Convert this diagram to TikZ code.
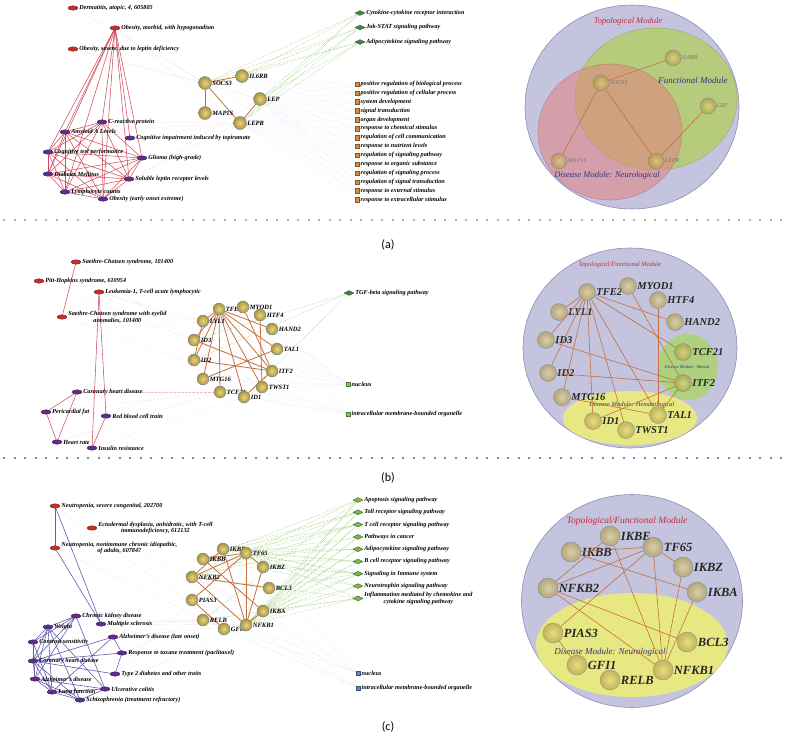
\documentclass[tikz,border=0pt]{standalone}
\usepackage{fontspec}
\setmainfont{Liberation Serif}
\newfontfamily\capfont{Carlito}
\usetikzlibrary{shapes.geometric,positioning}
\pgfdeclarelayer{background}
\pgfsetlayers{background,main}

\definecolor{disred}{RGB}{196,48,40}
\definecolor{traitpurple}{RGB}{92,46,138}
\definecolor{edgered}{RGB}{210,76,96}
\definecolor{edgeblue}{RGB}{100,90,178}
\definecolor{genegold}{RGB}{206,182,86}
\definecolor{genelight}{RGB}{232,214,130}
\definecolor{genedark}{RGB}{170,146,60}
\definecolor{generim}{RGB}{110,130,150}
\definecolor{geneedge}{RGB}{196,112,60}
\definecolor{pathgreen}{RGB}{70,130,70}
\definecolor{pathlight}{RGB}{124,184,70}
\definecolor{gogreen}{RGB}{130,200,90}
\definecolor{goorange}{RGB}{226,140,60}
\definecolor{goblue}{RGB}{100,135,200}
\definecolor{topofill}{RGB}{196,196,222}
\definecolor{topoline}{RGB}{140,140,190}
\definecolor{funcfill}{RGB}{180,205,100}
\definecolor{neurofill}{RGB}{226,130,130}
\definecolor{hemfill}{RGB}{236,236,120}
\definecolor{mentfill}{RGB}{170,212,110}
\definecolor{modred}{RGB}{200,40,60}
\definecolor{modblue}{RGB}{50,50,130}
\definecolor{sepgray}{RGB}{175,175,175}
\definecolor{sepblue}{RGB}{120,140,185}

\tikzstyle{dis} = [ellipse, fill=disred, draw=disred!60!black, line width=0.3pt, minimum width=10pt, minimum height=4.5pt, inner sep=0pt, label distance=0pt]
\tikzstyle{trait} = [dis, fill=traitpurple, draw=traitpurple!60!black]
\tikzstyle{lbl} = [font=\fontsize{6.2}{6.8}\selectfont\bfseries\itshape, inner sep=1pt]
\tikzstyle{gene} = [circle, shading=radial, inner color=genelight, outer color=genedark, draw=generim, line width=0.4pt, minimum size=12pt, inner sep=0pt, label distance=-1pt]
\tikzstyle{glbl} = [font=\fontsize{6.5}{7}\selectfont\bfseries\itshape, inner sep=0.5pt]
\tikzstyle{pway} = [diamond, aspect=2, fill=pathgreen, draw=pathgreen!60!black, line width=0.3pt, minimum width=10pt, minimum height=5pt, inner sep=0pt]
\tikzstyle{goterm} = [rectangle, fill=goorange, draw=goorange!60!black, line width=0.3pt, minimum size=4.5pt, inner sep=0pt]
\tikzstyle{redge} = [edgered, line width=0.55pt]
\tikzstyle{bedge} = [edgeblue, line width=0.6pt]
\tikzstyle{gedge} = [geneedge, line width=0.8pt]
\tikzstyle{xred} = [edgered!35, densely dotted, line width=0.35pt]
\tikzstyle{xgreen} = [pathlight, densely dotted, line width=0.4pt]
\tikzstyle{xblue} = [goblue!30, densely dotted, line width=0.3pt]
\tikzstyle{module} = [ellipse, inner sep=0pt, line width=0.6pt]
\tikzstyle{modtxt} = [font=\fontsize{8.5}{9}\selectfont\itshape, inner sep=0pt]
\tikzstyle{rgene} = [circle, shading=radial, inner color=genelight, outer color=genedark, draw=generim, line width=0.5pt, inner sep=0pt, opacity=0.6, label distance=-1pt]
\tikzstyle{rlblA} = [font=\fontsize{6}{6}\selectfont\itshape, text=black!55, inner sep=0.5pt]
\tikzstyle{rlblB} = [font=\fontsize{10.5}{11}\selectfont\bfseries\itshape, text=black!85, inner sep=0.5pt]
\tikzstyle{rlblC} = [font=\fontsize{12.5}{13}\selectfont\bfseries\itshape, text=black!85, inner sep=0.5pt]
\tikzstyle{rline} = [geneedge, line width=0.6pt]
\tikzstyle{sepline} = [line width=2pt, dash pattern=on 2pt off 8.5pt]
\tikzstyle{panel} = [font=\capfont\fontsize{12}{12}\selectfont]

\begin{document}
\begin{tikzpicture}[x=1pt, y=-1pt, node distance=8.9pt]
\useasboundingbox (0,0) rectangle (787,736);

\node (dermat) [dis, label={[lbl]right:Dermatitis, atopic, 4, 605805}] at (73,8) {};
\node (obmorb) [dis, label={[lbl]right:Obesity, morbid, with hypogonadism}] at (115,28) {};
\node (obsev) [dis, label={[lbl]right:Obesity, severe, due to leptin deficiency}] at (73,49) {};
\node (crp) [trait, label={[lbl]right:C-reactive protein}] at (102,122) {};
\node (amyl) [trait, label={[lbl]right:Amyloid A Levels}] at (65,132) {};
\node (cogimp) [trait, label={[lbl]right:Cognitive impairment induced by topiramate}] at (130,138) {};
\node (cogtest) [trait, label={[lbl]right:Cognitive test performance}] at (48,152) {};
\node (glioma) [trait, label={[lbl]right:Glioma (high-grade)}] at (142,158) {};
\node (diab) [trait, label={[lbl]right:Diabetes Mellitus}] at (48,174) {};
\node (solub) [trait, label={[lbl]right:Soluble leptin receptor levels}] at (129,179) {};
\node (lymph) [trait, label={[lbl]right:Lymphocyte counts}] at (65,192) {};
\node (obearly) [trait, label={[lbl]right:Obesity (early onset extreme)}] at (103,199) {};

\node (socsA) [gene, minimum size=13pt, label={[glbl]right:SOCS3}] at (205,83) {};
\node (il6rbA) [gene, minimum size=13pt, label={[glbl]right:IL6RB}] at (242,76) {};
\node (lepA) [gene, minimum size=13pt, label={[glbl]right:LEP}] at (260,99) {};
\node (mapA) [gene, minimum size=13pt, label={[glbl]right:MAP1S}] at (205,113) {};
\node (leprA) [gene, minimum size=13pt, label={[glbl]right:LEPR}] at (240,123) {};

\node (cytoA) [pway, label={[lbl]right:Cytokine-cytokine receptor interaction}] at (360,13) {};
\node (jakA) [pway, below of=cytoA, node distance=14.5pt, label={[lbl]right:Jak-STAT signaling pathway}] {};
\node (adipoA) [pway, below of=jakA, node distance=14.5pt, label={[lbl]right:Adipocytokine signaling pathway}] {};

\node (goA1) [goterm, label={[lbl]right:positive regulation of biological process}] at (357,84) {};
\node (goA2) [goterm, below of=goA1, label={[lbl]right:positive regulation of cellular process}] {};
\node (goA3) [goterm, below of=goA2, label={[lbl]right:system development}] {};
\node (goA4) [goterm, below of=goA3, label={[lbl]right:signal transduction}] {};
\node (goA5) [goterm, below of=goA4, label={[lbl]right:organ development}] {};
\node (goA6) [goterm, below of=goA5, label={[lbl]right:response to chemical stimulus}] {};
\node (goA7) [goterm, below of=goA6, label={[lbl]right:regulation of cell communication}] {};
\node (goA8) [goterm, below of=goA7, label={[lbl]right:response to nutrient levels}] {};
\node (goA9) [goterm, below of=goA8, label={[lbl]right:regulation of signaling pathway}] {};
\node (goA10) [goterm, below of=goA9, label={[lbl]right:response to organic substance}] {};
\node (goA11) [goterm, below of=goA10, label={[lbl]right:regulation of signaling process}] {};
\node (goA12) [goterm, below of=goA11, label={[lbl]right:regulation of signal transduction}] {};
\node (goA13) [goterm, below of=goA12, label={[lbl]right:response to external stimulus}] {};
\node (goA14) [goterm, below of=goA13, label={[lbl]right:response to extracellular stimulus}] {};

\begin{pgfonlayer}{background}
\draw [xblue] (leprA) edge (goA1) edge (goA2) edge (goA3) edge (goA4) edge (goA5) edge (goA6) edge (goA7) edge (goA8) edge (goA9) edge (goA10) edge (goA11) edge (goA12) edge (goA13) edge (goA14)
  (lepA) edge (goA1) edge (goA2) edge (goA3) edge (goA4) edge (goA5) edge (goA6) edge (goA7) edge (goA8) edge (goA9) edge (goA10) edge (goA11) edge (goA12) edge (goA13) edge (goA14)
  (il6rbA) edge (goA1) edge (goA2) edge (goA4) edge (goA7) edge (goA12)
  (socsA) edge (goA1) edge (goA2) edge (goA6) edge (goA9) edge (goA11);
\draw [xgreen] (il6rbA) edge (cytoA) edge (jakA) edge (adipoA)
  (lepA) edge (cytoA) edge (jakA) edge (adipoA)
  (leprA) edge (cytoA) edge (jakA) edge (adipoA)
  (socsA) edge (cytoA) edge (jakA) edge (adipoA);
\draw [xred] (obmorb) edge (leprA) edge (socsA) (obsev) edge (lepA) edge (socsA) (dermat) edge (socsA)
  (crp) edge (leprA) (cogimp) edge (leprA) (solub) edge (leprA) (obearly) edge (lepA) (amyl) edge (leprA);
\draw [redge] (obmorb) edge (crp) edge (amyl) edge (cogimp) edge (cogtest) edge (glioma) edge (diab) edge (solub) edge (lymph) edge (obearly)
  (crp) edge (amyl) edge (cogtest) edge (glioma) edge (diab) edge (solub) edge (lymph) edge (obearly)
  (amyl) edge (cogtest) edge (glioma) edge (diab) edge (solub) edge (lymph) edge (obearly)
  (cogtest) edge (glioma) edge (diab) edge (solub) edge (lymph) edge (obearly)
  (glioma) edge (diab) edge (solub) edge (lymph) edge (obearly)
  (diab) edge (solub) edge (lymph) edge (obearly)
  (solub) edge (lymph) edge (obearly)
  (lymph) edge (obearly);
\draw [gedge] (socsA) edge (il6rbA) edge (mapA) edge (leprA) (leprA) edge (lepA);
\end{pgfonlayer}

\node (topoA) [module, fill=topofill, draw=topoline, minimum width=214pt, minimum height=204pt] at (632,107) {};
\node (funcA) [module, fill=funcfill, fill opacity=0.8, draw=funcfill!70!black, draw opacity=0.4, minimum width=162pt, minimum height=142pt] at (656,99) {};
\node (neuroA) [module, fill=neurofill, fill opacity=0.55, draw=neurofill!70!black, draw opacity=0.4, minimum width=144pt, minimum height=136pt] at (610,132) {};
\node (topoAtxt) [modtxt, text=modred] at (628,21) {Topological Module};
\node (funcAtxt) [modtxt, text=modblue, font=\fontsize{9}{9}\selectfont\itshape] at (693,80) {Functional Module};
\node (neuroAtxt) [modtxt, text=modblue] at (607,175) {Disease Module: Neurological};
\node (il6rbR) [rgene, minimum size=16pt, label={[rlblA]right:IL6RB}] at (673,58) {};
\node (socsR) [rgene, minimum size=16pt, label={[rlblA]right:SOCS3}] at (601,83) {};
\node (lepR) [rgene, minimum size=16pt, label={[rlblA]right:LEP}] at (708,106) {};
\node (mapR) [rgene, minimum size=16pt, label={[rlblA]right:MAP1S}] at (559,161) {};
\node (leprR) [rgene, minimum size=16pt, label={[rlblA]right:LEPR}] at (656,161) {};
\draw [rline] (socsR) edge (il6rbR) edge (mapR) edge (leprR) (leprR) edge (lepR);

\draw [sepline, sepgray] (3,220) -- (787,220);
\node (capA) [panel] at (388,245) {(a)};

\node (sc1) [dis, label={[lbl]right:Saethre-Chotzen syndrome, 101400}] at (76,262) {};
\node (pitt) [dis, label={[lbl]right:Pitt-Hopkins syndrome, 610954}] at (39,281) {};
\node (leuk) [dis, label={[lbl]right:Leukemia-1, T-cell acute lymphocytic}] at (99,292) {};
\node (sc2) [dis, label={[lbl,align=center]right:Saethre-Chotzen syndrome with eyelid\\anomalies, 101400}] at (62,317) {};
\node (chdB) [trait, label={[lbl]right:Coronary heart disease}] at (77,392) {};
\node (perifat) [trait, label={[lbl]right:Pericardial fat}] at (46,412) {};
\node (rbc) [trait, label={[lbl]right:Red blood cell traits}] at (106,416) {};
\node (hrate) [trait, label={[lbl]right:Heart rate}] at (57,442) {};
\node (insres) [trait, label={[lbl]right:Insulin resistance}] at (92,448) {};

\node (tfe2B) [gene, label={[glbl]right:TFE2}] at (219,309) {};
\node (myod1B) [gene, label={[glbl]right:MYOD1}] at (243,307) {};
\node (lyl1B) [gene, label={[glbl]right:LYL1}] at (203,321) {};
\node (htf4B) [gene, label={[glbl]right:HTF4}] at (260,315) {};
\node (hand2B) [gene, label={[glbl]right:HAND2}] at (272,329) {};
\node (id3B) [gene, label={[glbl]right:ID3}] at (194,340) {};
\node (tal1B) [gene, label={[glbl]right:TAL1}] at (277,349) {};
\node (id2B) [gene, label={[glbl]right:ID2}] at (194,360) {};
\node (itf2B) [gene, label={[glbl]right:ITF2}] at (272,371) {};
\node (mtg16B) [gene, label={[glbl]right:MTG16}] at (203,379) {};
\node (twst1B) [gene, label={[glbl]right:TWST1}] at (262,387) {};
\node (tcf21B) [gene, label={[glbl]right:TCF21}] at (220,392) {};
\node (id1B) [gene, label={[glbl]right:ID1}] at (244,397) {};

\node (tgfB) [pway, label={[lbl]right:TGF-beta signaling pathway}] at (349,293) {};
\node (nucB) [goterm, fill=gogreen, draw=gogreen!60!black, label={[lbl]right:nucleus}] at (348,384) {};
\node (imboB) [goterm, fill=gogreen, draw=gogreen!60!black, label={[lbl]right:intracellular membrane-bounded organelle}] at (348,414) {};

\begin{pgfonlayer}{background}
\draw [xblue] (nucB) edge (tfe2B) edge (myod1B) edge (lyl1B) edge (htf4B) edge (hand2B) edge (id3B) edge (tal1B) edge (id2B) edge (itf2B) edge (mtg16B) edge (twst1B) edge (tcf21B) edge (id1B)
  (imboB) edge (id1B) edge (twst1B) edge (tcf21B) edge (itf2B) edge (hand2B) edge (tal1B) edge (id2B) edge (mtg16B);
\draw [xgreen] (tgfB) edge (id3B) edge (id2B) edge (id1B);
\draw [xred] (sc1) edge (twst1B) (sc2) edge (twst1B) (pitt) edge (itf2B) (leuk) edge (tal1B) (leuk) edge (lyl1B)
  (chdB) edge (tcf21B) (perifat) edge (tcf21B) (rbc) edge (tal1B) (hrate) edge (tcf21B) (insres) edge (id1B);
\draw [redge] (sc1) edge (sc2) (leuk) edge (insres) edge (rbc) (chdB) edge (perifat) edge (hrate) (perifat) edge (hrate) (rbc) edge (insres);
\draw [gedge] (tfe2B) edge (lyl1B) edge (id3B) edge (id2B) edge (mtg16B) edge (tcf21B) edge (id1B) edge (twst1B) edge (tal1B) edge (hand2B) edge (itf2B)
  (id3B) edge (itf2B) (id2B) edge (itf2B) (mtg16B) edge (tal1B) (myod1B) edge (itf2B) (htf4B) edge (twst1B) (itf2B) edge (id1B) (lyl1B) edge (id2B);
\end{pgfonlayer}

\node (topoB) [module, fill=topofill, draw=topoline, minimum width=214pt, minimum height=200pt] at (630,348) {};
\node (mentB) [module, fill=mentfill, fill opacity=0.85, minimum width=60pt, minimum height=66pt] at (688,367) {};
\node (hemB) [module, fill=hemfill, fill opacity=0.9, minimum width=134pt, minimum height=54pt] at (630,418) {};
\node (topoBtxt) [modtxt, text=modred, font=\fontsize{6.5}{7}\selectfont\itshape] at (620,265) {Topological/Functional Module};
\node (mentBtxt) [modtxt, text=modblue, font=\fontsize{4.5}{5}\selectfont\itshape] at (687,367) {Disease Module: Mental};
\node (hemBtxt) [modtxt, text=modblue, font=\fontsize{6.5}{7}\selectfont\itshape] at (632,405) {Disease Module: Hematological};
\node (tfe2R) [rgene, minimum size=17pt, label={[rlblB]right:TFE2}] at (587,292) {};
\node (myod1R) [rgene, minimum size=17pt, label={[rlblB]right:MYOD1}] at (628,286) {};
\node (htf4R) [rgene, minimum size=17pt, label={[rlblB]right:HTF4}] at (658,300) {};
\node (lyl1R) [rgene, minimum size=17pt, label={[rlblB]right:LYL1}] at (559,312) {};
\node (hand2R) [rgene, minimum size=17pt, label={[rlblB]right:HAND2}] at (675,322) {};
\node (id3R) [rgene, minimum size=17pt, label={[rlblB]right:ID3}] at (546,340) {};
\node (tcf21R) [rgene, minimum size=17pt, label={[rlblB]right:TCF21}] at (683,352) {};
\node (id2R) [rgene, minimum size=17pt, label={[rlblB]right:ID2}] at (548,373) {};
\node (itf2R) [rgene, minimum size=17pt, label={[rlblB]right:ITF2}] at (683,383) {};
\node (mtg16R) [rgene, minimum size=17pt, label={[rlblB]right:MTG16}] at (562,397) {};
\node (tal1R) [rgene, minimum size=17pt, label={[rlblB]right:TAL1}] at (658,415) {};
\node (id1R) [rgene, minimum size=17pt, label={[rlblB]right:ID1}] at (593,421) {};
\node (twst1R) [rgene, minimum size=17pt, label={[rlblB]right:TWST1}] at (626,430) {};
\draw [rline] (tfe2R) edge (lyl1R) edge (id3R) edge (id2R) edge (mtg16R) edge (id1R) edge (twst1R) edge (tal1R) edge (tcf21R) edge (hand2R)
  (id3R) edge (itf2R) (id2R) edge (itf2R) (mtg16R) edge (tal1R) (myod1R) edge (itf2R) (htf4R) edge (tal1R) (itf2R) edge (id1R) edge (tal1R);

\draw [sepline, sepblue] (3,458) -- (787,458);
\node (capB) [panel] at (388,478) {(b)};

\node (neusev) [dis, label={[lbl]right:Neutropenia, severe congenital, 202700}] at (55,506) {};
\node (ectod) [dis, label={[lbl,align=center]right:Ectodermal dysplasia, anhidrotic, with T-cell\\immunodeficiency, 612132}] at (92,528) {};
\node (neunon) [dis, label={[lbl,align=center]right:Neutropenia, nonimmune chronic idiopathic,\\of adults, 607847}] at (55,548) {};
\node (ckd) [trait, label={[lbl]right:Chronic kidney disease}] at (76,616) {};
\node (msc) [trait, label={[lbl]right:Multiple sclerosis}] at (101,624) {};
\node (wgt) [trait, label={[lbl]right:Weight}] at (48,627) {};
\node (csens) [trait, label={[lbl]right:Contrast sensitivity}] at (33,642) {};
\node (alzlate) [trait, label={[lbl]right:Alzheimer's disease (late onset)}] at (113,637) {};
\node (taxane) [trait, label={[lbl]right:Response to taxane treatment (paclitaxel)}] at (122,653) {};
\node (chdC) [trait, label={[lbl]right:Coronary heart disease}] at (33,661) {};
\node (t2d) [trait, label={[lbl]right:Type 2 diabetes and other traits}] at (115,674) {};
\node (alzd) [trait, label={[lbl]right:Alzheimer's disease}] at (35,679) {};
\node (ulcol) [trait, label={[lbl]right:Ulcerative colitis}] at (105,689) {};
\node (lungf) [trait, label={[lbl]right:Lung function}] at (52,692) {};
\node (schiz) [trait, label={[lbl]right:Schizophrenia (treatment refractory)}] at (80,700) {};

\node (ikbeC) [gene, label={[glbl]right:IKBE}] at (223,549) {};
\node (tf65C) [gene, label={[glbl]right:TF65}] at (246,553) {};
\node (ikbbC) [gene, label={[glbl]right:IKBB}] at (203,559) {};
\node (ikbzC) [gene, label={[glbl]right:IKBZ}] at (263,567) {};
\node (nfkb2C) [gene, label={[glbl]right:NFKB2}] at (192,577) {};
\node (bcl3C) [gene, label={[glbl]right:BCL3}] at (269,588) {};
\node (pias3C) [gene, label={[glbl]right:PIAS3}] at (192,600) {};
\node (ikbaC) [gene, label={[glbl]right:IKBA}] at (263,611) {};
\node (relbC) [gene, label={[glbl]right:RELB}] at (203,620) {};
\node (gfi1C) [gene, label={[glbl]right:GFI1}] at (224,629) {};
\node (nfkb1C) [gene, label={[glbl]right:NFKB1}] at (246,625) {};

\node (pwC1) [pway, fill=pathlight, label={[lbl]right:Apoptosis signaling pathway}] at (358,500) {};
\node (pwC2) [pway, fill=pathlight, below of=pwC1, node distance=12.3pt, label={[lbl]right:Toll receptor signaling pathway}] {};
\node (pwC3) [pway, fill=pathlight, below of=pwC2, node distance=12.3pt, label={[lbl]right:T cell receptor signaling pathway}] {};
\node (pwC4) [pway, fill=pathlight, below of=pwC3, node distance=12.3pt, label={[lbl]right:Pathways in cancer}] {};
\node (pwC5) [pway, fill=pathlight, below of=pwC4, node distance=12.3pt, label={[lbl]right:Adipocytokine signaling pathway}] {};
\node (pwC6) [pway, fill=pathlight, below of=pwC5, node distance=12.3pt, label={[lbl]right:B cell receptor signaling pathway}] {};
\node (pwC7) [pway, fill=pathlight, below of=pwC6, node distance=12.3pt, label={[lbl]right:Signaling in Immune system}] {};
\node (pwC8) [pway, fill=pathlight, below of=pwC7, node distance=12.3pt, label={[lbl]right:Neurotrophin signaling pathway}] {};
\node (pwC9) [pway, fill=pathlight, below of=pwC8, node distance=12.3pt, label={[lbl,align=center]right:Inflammation mediated by chemokine and\\cytokine signaling pathway}] {};
\node (nucC) [goterm, fill=goblue, draw=goblue!60!black, label={[lbl]right:nucleus}] at (358,673) {};
\node (imboC) [goterm, fill=goblue, draw=goblue!60!black, label={[lbl]right:intracellular membrane-bounded organelle}] at (358,688) {};

\begin{pgfonlayer}{background}
\draw [xgreen] (pwC1) edge (tf65C) edge (nfkb1C) edge (ikbaC) edge (ikbbC) edge (relbC)
  (pwC2) edge (tf65C) edge (nfkb1C) edge (ikbaC) edge (ikbbC) edge (ikbeC)
  (pwC3) edge (tf65C) edge (nfkb1C) edge (ikbaC) edge (ikbbC) edge (ikbeC) edge (nfkb2C)
  (pwC4) edge (tf65C) edge (nfkb1C) edge (ikbaC) edge (nfkb2C)
  (pwC5) edge (tf65C) edge (nfkb1C) edge (ikbaC) edge (ikbbC) edge (ikbeC)
  (pwC6) edge (tf65C) edge (nfkb1C) edge (ikbaC) edge (ikbbC) edge (ikbeC)
  (pwC7) edge (tf65C) edge (nfkb1C) edge (ikbaC) edge (ikbbC) edge (ikbeC) edge (ikbzC) edge (bcl3C)
  (pwC8) edge (tf65C) edge (nfkb1C) edge (ikbaC) edge (ikbbC)
  (pwC9) edge (tf65C) edge (nfkb1C) edge (ikbaC) edge (relbC) edge (nfkb2C);
\draw [xblue] (nucC) edge (nfkb1C) edge (relbC) edge (gfi1C) edge (pias3C) edge (bcl3C) edge (ikbaC) edge (tf65C) edge (nfkb2C)
  (imboC) edge (nfkb1C) edge (relbC) edge (gfi1C) edge (pias3C) edge (ikbaC);
\draw [xred] (neusev) edge (gfi1C) (neunon) edge (gfi1C) (ectod) edge (ikbaC) (ckd) edge (nfkb1C) (msc) edge (relbC) (msc) edge (nfkb1C)
  (alzlate) edge (nfkb1C) (taxane) edge (bcl3C) (t2d) edge (pias3C) (ulcol) edge (nfkb1C) (wgt) edge (relbC);
\draw [bedge] (neusev) edge (neunon) edge (msc) (neunon) edge (msc);
\draw [bedge] (ckd) edge (wgt) edge (csens) edge (chdC) edge (alzd) edge (ulcol)
  (wgt) edge (csens) edge (chdC) edge (alzd) edge (lungf) edge (schiz) edge (ulcol)
  (csens) edge (chdC) edge (alzd) edge (lungf)
  (chdC) edge (alzd) edge (lungf) edge (alzlate) edge (t2d) edge (schiz)
  (alzd) edge (lungf) edge (ulcol) edge (schiz)
  (lungf) edge (schiz) edge (ulcol)
  (schiz) edge (ulcol)
  (alzlate) edge (taxane) edge (lungf)
  (taxane) edge (t2d) edge (chdC);
\draw [gedge] (ikbbC) edge (tf65C) edge (ikbaC) (ikbeC) edge (nfkb1C) (nfkb2C) edge (tf65C) edge (ikbeC) edge (bcl3C) edge (nfkb1C)
  (tf65C) edge (ikbzC) edge (nfkb1C) edge (pias3C) (ikbzC) edge (nfkb1C) (ikbaC) edge (nfkb1C) (pias3C) edge (gfi1C);
\end{pgfonlayer}

\node (topoC) [module, fill=topofill, draw=topoline, minimum width=221pt, minimum height=213pt] at (632,601) {};
\node (neuroC) [module, fill=hemfill, fill opacity=0.9, minimum width=192pt, minimum height=104pt] at (632,645) {};
\node (topoCtxt) [modtxt, text=modred, font=\fontsize{9.5}{10}\selectfont\itshape] at (627,521) {Topological/Functional Module};
\node (neuroCtxt) [modtxt, text=modblue, font=\fontsize{9}{9}\selectfont\itshape] at (610,652) {Disease Module: Neurological};
\node (ikbeR) [rgene, minimum size=20pt, label={[rlblC]right:IKBE}] at (610,536) {};
\node (tf65R) [rgene, minimum size=20pt, label={[rlblC]right:TF65}] at (653,547) {};
\node (ikbbR) [rgene, minimum size=20pt, label={[rlblC]right:IKBB}] at (571,552) {};
\node (ikbzR) [rgene, minimum size=20pt, label={[rlblC]right:IKBZ}] at (683,567) {};
\node (nfkb2R) [rgene, minimum size=20pt, label={[rlblC]right:NFKB2}] at (548,588) {};
\node (ikbaR) [rgene, minimum size=20pt, label={[rlblC]right:IKBA}] at (697,592) {};
\node (pias3R) [rgene, minimum size=20pt, label={[rlblC]right:PIAS3}] at (553,633) {};
\node (bcl3R) [rgene, minimum size=20pt, label={[rlblC]right:BCL3}] at (687,642) {};
\node (gfi1R) [rgene, minimum size=20pt, label={[rlblC]right:GFI1}] at (577,665) {};
\node (nfkb1R) [rgene, minimum size=20pt, label={[rlblC]right:NFKB1}] at (663,670) {};
\node (relbR) [rgene, minimum size=20pt, label={[rlblC]right:RELB}] at (610,680) {};
\draw [rline] (ikbbR) edge (tf65R) edge (ikbaR) (ikbeR) edge (nfkb1R) (nfkb2R) edge (tf65R) edge (ikbeR) edge (bcl3R) edge (nfkb1R)
  (tf65R) edge (ikbzR) edge (nfkb1R) edge (pias3R) (ikbzR) edge (nfkb1R) (ikbaR) edge (nfkb1R) (pias3R) edge (gfi1R);

\node (capC) [panel] at (388,727) {(c)};
\end{tikzpicture}
\end{document}
